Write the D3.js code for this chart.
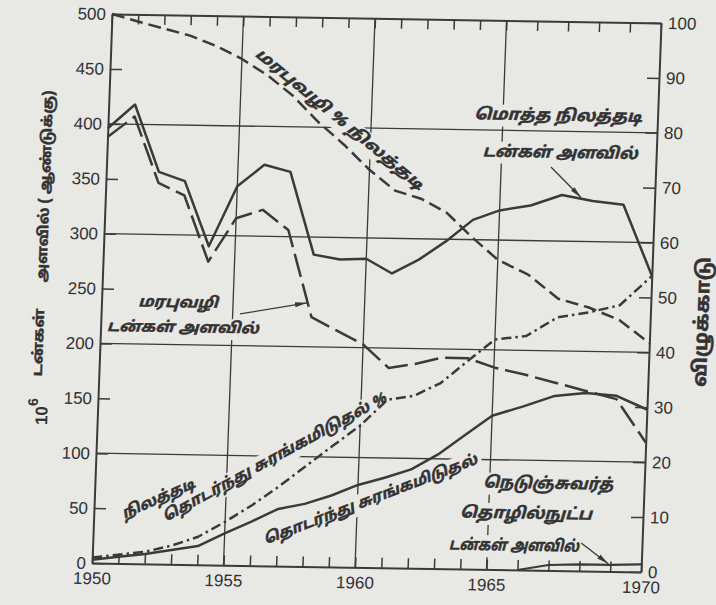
<!DOCTYPE html>
<html>
<head>
<meta charset="utf-8">
<script src="https://cdn.jsdelivr.net/npm/d3@7/dist/d3.min.js"></script>
<style>
html,body{margin:0;padding:0;background:#e8e8e5;}
svg{display:block;}
.num{font-family:"Liberation Sans",Arial,Helvetica,sans-serif;font-size:17px;fill:#333;}
.ta{font-family:"Noto Sans Tamil","Lohit Tamil","Latha","Noto Sans",sans-serif;fill:#333;font-style:italic;font-weight:bold;stroke:#333;stroke-width:0.45px;}
</style>
</head>
<body>
<svg id="chart" width="716" height="605"></svg>
<script>
// ---------------- data ----------------
const years = d3.range(1950, 1971);
const totalUnderground = [396,418,357,349,290,345,365,359,284,280,281,268,281,298,318,327,332,342,337,334,270];
const conventionalTons = [388,407,347,336,276,316,324,306,227,215,203,182,186,192,192,184,178,171,164,157,118];
const conventionalPct  = [100,98.7,97.5,96.3,94.5,92.2,89.3,85.6,80.9,76.9,72.4,68.7,67.3,64.8,60.4,56.4,53.8,49.5,48.0,45.8,41.7];
const continuousPct    = [1.0,1.6,2.2,3.4,5.1,7.9,11.0,14.5,18.3,22.1,25.8,30.6,31.4,33.8,37.9,41.9,42.6,46.1,47.1,48.5,53.9];
const continuousTons   = [3,6,9,13,17,29,40,52,57,65,75,82,90,104,122,140,149,159,162,160,148];
const longwallYears    = [1966,1967,1968,1969,1970];
const longwallTons     = [0,5,6,6,7];
const leftTicks  = d3.range(0, 501, 50);
const rightTicks = d3.range(0, 101, 10);
const xLabelYears = [1950,1955,1960,1965,1970];
const gridYears  = [1955,1960,1965];
const gridValues = [100,200,300,400];

// ---------------- layout ----------------
const W = 549, H = 549;
const INK = "#3a3a3a", BG = "#e8e8e5";
const svg = d3.select("#chart");
svg.append("rect").attr("width",716).attr("height",605).attr("fill",BG);
// the scanned figure is slightly skewed
const g = svg.append("g").attr("transform","matrix(1,0.0164,-0.0364,1,112,14)");

const x  = d3.scaleLinear().domain([1950,1965,1970]).range([0,394.5,W]);
const yL = d3.scaleLinear().domain([0,500]).range([H,0]);
const yR = d3.scaleLinear().domain([0,100]).range([H,0]);

const gridG = g.append("g"), maskG = g.append("g"), lineG = g.append("g"),
      axisG = g.append("g"), textG = g.append("g");

// grid
gridG.selectAll("line.vg").data(gridYears).join("line").attr("class","vg")
  .attr("x1",d=>x(d)).attr("x2",d=>x(d)).attr("y1",0).attr("y2",H)
  .attr("stroke",INK).attr("stroke-width",1.3);
gridG.selectAll("line.hg").data(gridValues).join("line").attr("class","hg")
  .attr("x1",0).attr("x2",W).attr("y1",d=>yL(d)).attr("y2",d=>yL(d))
  .attr("stroke",INK).attr("stroke-width",1.3);

// series
const series = [
  {values: totalUnderground, scale: yL, dash: null},
  {values: conventionalTons, scale: yL, dash: "24,7"},
  {values: conventionalPct,  scale: yR, dash: "13,6"},
  {values: continuousPct,    scale: yR, dash: "10,4,2.5,4"},
  {values: continuousTons,   scale: yL, dash: null}
];
series.forEach(s => {
  const line = d3.line().x((d,i)=>x(years[i])).y(d=>s.scale(d));
  lineG.append("path").datum(s.values).attr("d",line)
    .attr("fill","none").attr("stroke",INK).attr("stroke-width",2.5)
    .attr("stroke-linejoin","round").attr("stroke-dasharray",s.dash);
});
lineG.append("path").datum(longwallTons)
  .attr("d", d3.line().x((d,i)=>x(longwallYears[i])).y(d=>yL(d)))
  .attr("fill","none").attr("stroke",INK).attr("stroke-width",2.2);

// axes
function styleAxis(sel){
  sel.select(".domain").attr("stroke",INK).attr("stroke-width",2);
  sel.selectAll(".tick line").attr("stroke",INK).attr("stroke-width",1.5);
  sel.selectAll(".tick text").attr("class","num").attr("fill","#333");
}
axisG.append("g").attr("transform",`translate(0,${H})`)
  .call(d3.axisBottom(x).tickValues(years).tickSize(-10).tickSizeOuter(0).tickPadding(9)
    .tickFormat(d => xLabelYears.includes(d) ? d : "")).call(styleAxis);
axisG.append("g")
  .call(d3.axisTop(x).tickValues(years).tickSize(-10).tickSizeOuter(0).tickFormat("")).call(styleAxis);
axisG.append("g")
  .call(d3.axisLeft(yL).tickValues(leftTicks).tickSize(-12).tickSizeOuter(0).tickPadding(6)).call(styleAxis);
axisG.append("g").attr("transform",`translate(${W},0)`)
  .call(d3.axisRight(yR).tickValues(rightTicks).tickSize(-12).tickSizeOuter(0).tickPadding(7)).call(styleAxis);

// annotations (placed in data coordinates)
const notes = [
  {t:"மரபுவழி % நிலத்தடி", yr:1958.81, v:408, a:38, s:15, len:215},
  {t:"மொத்த நிலத்தடி", yr:1966.78, v:414.7, a:0, s:16, len:168},
  {t:"டன்கள் அளவில்", yr:1966.89, v:381, a:0, s:16, len:155},
  {t:"மரபுவழி", yr:1952.91, v:238.9, a:0, s:15, len:80},
  {t:"டன்கள் அளவில்", yr:1953.13, v:216.2, a:0, s:15, len:152},
  {t:"தொடர்ந்து சுரங்கமிடுதல் %", yr:1956.77, v:99.2, a:-29.8, s:15, len:250},
  {t:"நிலத்தடி", yr:1952.42, v:60.1, a:-25, s:15, len:78},
  {t:"தொடர்ந்து சுரங்கமிடுதல்", yr:1960.48, v:62.4, a:-22, s:15, len:226},
  {t:"நெடுஞ்சுவர்த்", yr:1966.89, v:79.6, a:0, s:16, len:130},
  {t:"தொழில்நுட்ப", yr:1966.21, v:52, a:0, s:16, len:132},
  {t:"டன்கள் அளவில்", yr:1965.86, v:22.7, a:0, s:16, len:130}
];
notes.forEach(n => {
  const tr = `translate(${x(n.yr)},${yL(n.v)}) rotate(${n.a})`;
  const tg = textG.append("g").attr("transform",tr);
  const txt = tg.append("text").attr("class","ta").attr("text-anchor","middle").attr("dy","0.35em")
    .attr("font-size",n.s).attr("textLength",n.len).attr("lengthAdjust","spacingAndGlyphs").text(n.t);
  const b = txt.node().getBBox();
  maskG.append("g").attr("transform",tr).append("rect")
    .attr("x",b.x-3).attr("y",b.y-1).attr("width",b.width+6).attr("height",b.height+2).attr("fill",BG);
});

// arrows
const defs = svg.append("defs");
defs.append("marker").attr("id","ah").attr("viewBox","0 0 12 6").attr("refX",12).attr("refY",3)
  .attr("markerWidth",12).attr("markerHeight",6).attr("markerUnits","userSpaceOnUse").attr("orient","auto")
  .append("path").attr("d","M0,0.5 L12,3 L0,5.5 Z").attr("fill",INK);
const arrows = [
  {from:[1966.61,367.3], to:[1967.62,340]},
  {from:[1955.28,228.9], to:[1957.81,240]},
  {from:[1968.03,25.5],  to:[1968.93,7]}
];
arrows.forEach(a => {
  textG.append("line").attr("x1",x(a.from[0])).attr("y1",yL(a.from[1]))
    .attr("x2",x(a.to[0])).attr("y2",yL(a.to[1]))
    .attr("stroke",INK).attr("stroke-width",1.3).attr("marker-end","url(#ah)");
});

// axis titles
const lt = textG.append("g").attr("transform",`translate(-50,${yL(137)}) rotate(-90)`);
const t10 = lt.append("text").attr("class","num").attr("text-anchor","middle")
  .attr("font-size",22).attr("font-weight","bold");
t10.append("tspan").text("10");
t10.append("tspan").attr("font-size",14).attr("dy",-10).text("6");
textG.append("text").attr("class","ta").attr("transform",`translate(-57,${yL(200)}) rotate(-90)`)
  .attr("text-anchor","middle").attr("font-size",14).style("font-style","normal")
  .attr("textLength",68).attr("lengthAdjust","spacingAndGlyphs").text("டன்கள்");
textG.append("text").attr("class","ta").attr("transform",`translate(-56,${yL(342)}) rotate(-90)`)
  .attr("text-anchor","middle").attr("font-size",14).style("font-style","normal")
  .attr("textLength",192).attr("lengthAdjust","spacingAndGlyphs").text("அளவில் ( ஆண்டுக்கு)");
textG.append("text").attr("class","ta").attr("transform",`translate(${W+58},${yR(45.7)}) rotate(-90)`)
  .attr("text-anchor","middle").attr("font-size",19).style("font-style","normal")
  .attr("textLength",130).attr("lengthAdjust","spacingAndGlyphs").text("விழுக்காடு");
</script>
</body>
</html>
